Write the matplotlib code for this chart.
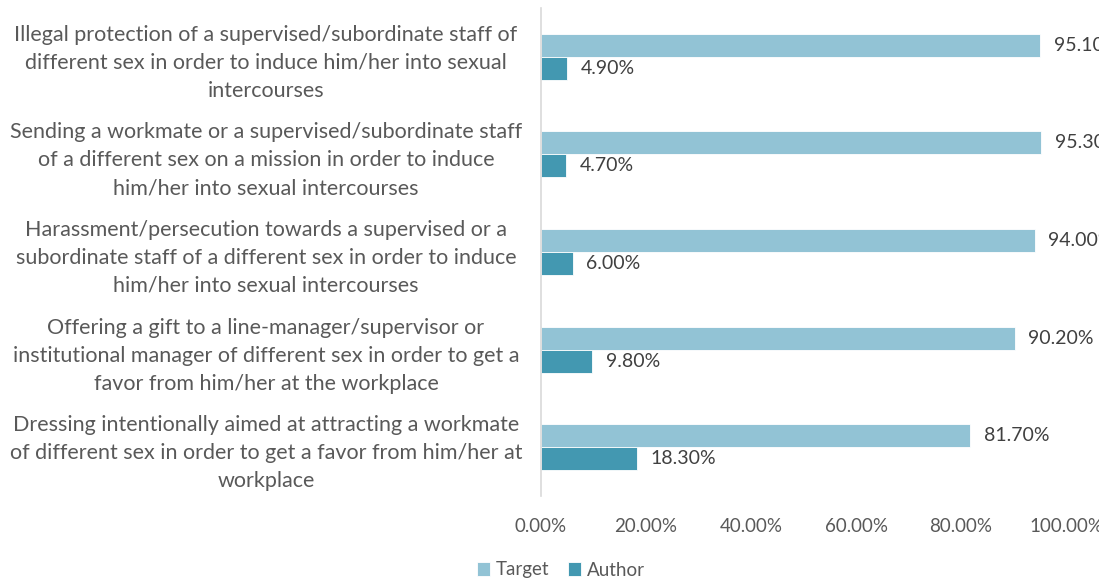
import matplotlib.pyplot as plt
import numpy as np

categories = [
    "Illegal protection of a supervised/subordinate staff of\ndifferent sex in order to induce him/her into sexual\nintercourses",
    "Sending a workmate or a supervised/subordinate staff\nof a different sex on a mission in order to induce\nhim/her into sexual intercourses",
    "Harassment/persecution towards a supervised or a\nsubordinate staff of a different sex in order to induce\nhim/her into sexual intercourses",
    "Offering a gift to a line-manager/supervisor or\ninstitutional manager of different sex in order to get a\nfavor from him/her at the workplace",
    "Dressing intentionally aimed at attracting a workmate\nof different sex in order to get a favor from him/her at\nworkplace",
]
target = [95.10, 95.30, 94.00, 90.20, 81.70]
author = [4.90, 4.70, 6.00, 9.80, 18.30]
xticks = [0, 20, 40, 60, 80, 100]

plt.rcParams['font.family'] = ['Lato', 'DejaVu Sans']

fig = plt.figure(figsize=(10.99, 5.84), dpi=100)
ax = fig.add_axes([541 / 1099, 1 - 496 / 584, 525 / 1099, 488 / 584])

y = np.arange(len(categories))
h = 0.235
c_target = "#92C3D5"
c_author = "#4398B1"

ax.barh(y - h / 2, target, height=h, color=c_target, edgecolor="white", linewidth=0.6, label="Target")
ax.barh(y + h / 2, author, height=h, color=c_author, edgecolor="white", linewidth=0.6, label="Author")

# data labels
for yi, v in zip(y, target):
    ax.text(v + 2.6, yi - h / 2, f"{v:.2f}%", va="center", ha="left", fontsize=14, color="#404040", clip_on=False)
for yi, v in zip(y, author):
    ax.text(v + 2.6, yi + h / 2, f"{v:.2f}%", va="center", ha="left", fontsize=14, color="#404040", clip_on=False)

ax.set_xlim(0, 100)
ax.set_ylim(len(categories) - 0.5, -0.5)
ax.set_xticks(xticks)
ax.set_xticklabels([f"{t:.2f}%" for t in xticks], fontsize=13.5, color="#595959")
ax.set_yticks(y)
ax.set_yticklabels(categories, fontsize=15.5, color="#595959", ha="center", multialignment="center", linespacing=1.5)
ax.tick_params(axis="y", length=0, pad=198)
ax.tick_params(axis="x", length=0, pad=16)

for s in ["top", "right", "bottom"]:
    ax.spines[s].set_visible(False)
ax.spines["left"].set_color("#D9D9D9")
ax.spines["left"].set_linewidth(1.2)

fig.legend(loc="center", bbox_to_anchor=(561 / 1099, 1 - 570 / 584), ncol=2, frameon=False,
           fontsize=13.5, handlelength=0.7, handleheight=0.7, handletextpad=0.3, columnspacing=1.0,
           labelcolor="#595959")

fig.savefig("out.png", dpi=100)
